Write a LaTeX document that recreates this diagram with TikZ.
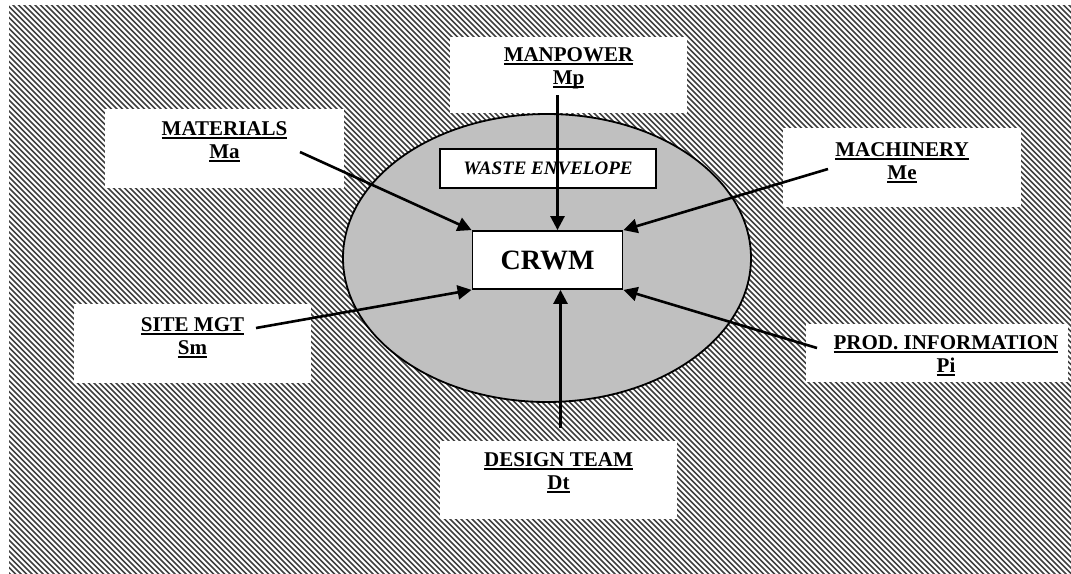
\documentclass[tikz,border=0pt]{standalone}
\usepackage{fontspec}
\setmainfont{Liberation Serif}
\usetikzlibrary{positioning,arrows.meta,shapes.geometric}
\definecolor{envgray}{HTML}{C0C0C0}
\newcommand{\ulabel}[1]{\leavevmode\setbox0\hbox{#1}\rlap{\rule[-2.8pt]{\wd0}{2pt}}\box0}

\begin{document}
\begin{tikzpicture}[x=1pt,y=-1pt,
    pane/.style={fill=white,inner sep=0pt},
    lbl/.style={inner sep=0pt,align=center,font=\fontsize{21}{23}\selectfont\bfseries},
    framed/.style={draw,fill=white,line width=1.8pt,inner sep=0pt},
    link/.style={line width=2.6pt,-{Triangle[length=14pt,width=14pt]}}]
    \useasboundingbox (0,0) rectangle (1071,573);
    \begin{scope}
        \clip (9,5) rectangle (1071,573);
        \foreach \k in {-575,-569.5,...,1075} {
            \draw[black!75,line width=1.7pt] (\k,0) -- ++(600,600);
        }
    \end{scope}

    \node[pane,minimum width=239pt,minimum height=79pt] (mabox) at (224.5,148.5) {};
    \node[pane,minimum width=237pt,minimum height=76pt] (mpbox) at (568.5,75) {};
    \node[pane,minimum width=238pt,minimum height=79pt] (mebox) at (902,167.5) {};
    \node[pane,minimum width=237pt,minimum height=79pt] (smbox) at (192.5,343.5) {};
    \node[pane,minimum width=262pt,minimum height=58pt] (pibox) at (937,353) {};
    \node[pane,minimum width=237pt,minimum height=78pt] (dtbox) at (558.5,480) {};

    \node[lbl,below=13pt of mabox.north] (ma) {\ulabel{MATERIALS}\\\ulabel{Ma}};
    \node[lbl,below=11pt of mpbox.north] (mp) {\ulabel{MANPOWER}\\\ulabel{Mp}};
    \node[lbl,below=15pt of mebox.north] (me) {\ulabel{MACHINERY}\\\ulabel{Me}};
    \node[lbl,below=14pt of smbox.north] (sm) {\ulabel{SITE MGT}\\\ulabel{Sm}};
    \node[lbl,below=12pt of pibox.north,xshift=9pt] (pi) {\ulabel{PROD. INFORMATION}\\\ulabel{Pi}};
    \node[lbl,below=12pt of dtbox.north] (dt) {\ulabel{DESIGN TEAM}\\\ulabel{Dt}};

    \node[ellipse,draw,fill=envgray,line width=1.8pt,minimum width=408pt,minimum height=288pt] (env) at (547,258) {};
    \node[framed,minimum width=216pt,minimum height=39pt,font=\fontsize{19}{21}\selectfont\bfseries\itshape] (waste) at (548,168.5) {WASTE ENVELOPE};
    \node[framed,minimum width=150pt,minimum height=58pt,font=\fontsize{28}{30}\selectfont\bfseries] (crwm) at (547.5,260) {CRWM};

    \coordinate (mastart) at (300,152);
    \coordinate (mpstart) at (557.5,95);
    \coordinate (mestart) at (828,169);
    \coordinate (smstart) at (256,328);
    \coordinate (pistart) at (817,348);
    \coordinate (dtstart) at (560.5,428);

    \draw[link] (mastart) -- (crwm.north west);
    \draw[link] (mpstart) -- (mpstart |- crwm.north);
    \draw[link] (mestart) -- (crwm.north east);
    \draw[link] (smstart) -- (crwm.south west);
    \draw[link] (pistart) -- (crwm.south east);
    \draw[link] (dtstart) -- (dtstart |- crwm.south);
\end{tikzpicture}
\end{document}
